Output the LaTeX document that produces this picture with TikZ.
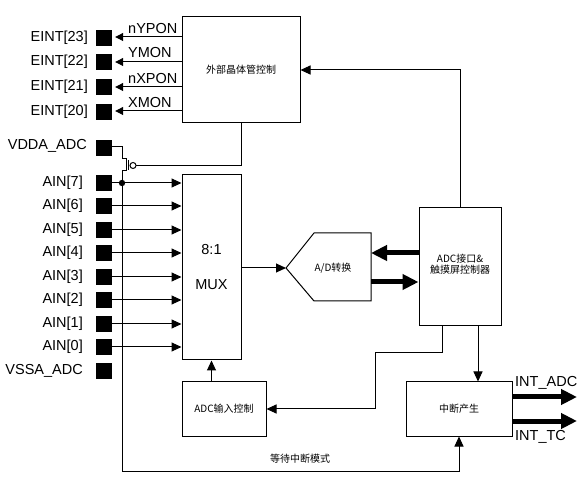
\documentclass[tikz,border=0pt]{standalone}
\usepackage{fontspec}
\setmainfont{Liberation Sans}
\newfontfamily\cjk{Noto Sans CJK SC}
\usetikzlibrary{arrows.meta,calc}
\begin{document}
\begin{tikzpicture}[x=1pt,y=-1pt,
  pad/.style={fill=black,minimum size=16pt,inner sep=0pt},
  blk/.style={draw,line width=1pt,inner sep=0pt},
  wire/.style={line width=1pt},
  arr/.style={line width=1pt,-{Triangle[length=10pt,width=9pt]}},
  sarr/.style={line width=1pt,-{Triangle[length=8pt,width=8pt]}},
  fat/.style={line width=5pt,-{Triangle[length=16pt,width=15pt]}},
  lab/.style={font=\fontsize{14.5}{16}\selectfont,inner sep=0pt},
  cn/.style={font=\cjk\fontsize{10}{11}\selectfont,inner sep=0pt,align=center}]
\useasboundingbox (0,0) rectangle (584,478);
\fill[white] (0,0) rectangle (584,478);

% blocks
\node[blk,minimum width=118pt,minimum height=106pt] (ext) at (241,70) {};
\node[cn] (extT) at (241,70) {外部晶体管控制};
\node[blk,minimum width=59pt,minimum height=185pt] (mux) at (211.5,267.5) {};
\node[lab] (muxA) at (211.5,250) {8:1};
\node[lab] (muxB) at (211.5,285) {MUX};
\node[blk,minimum width=82pt,minimum height=118pt] (adc) at (460,267) {};
\node[cn] (adcT) at (460,264) {ADC接口\&\\触摸屏控制器};
\node[blk,minimum width=84pt,minimum height=54pt] (ain) at (224,409) {};
\node[cn] (ainT) at (224,409) {ADC输入控制};
\node[blk,minimum width=106pt,minimum height=54pt] (irq) at (459,409) {};
\node[cn] (irqT) at (459,409) {中断产生};

% A/D converter shape
\coordinate (adtip) at (286,268);
\coordinate (adtl) at (314,233);
\coordinate (adtr) at (371,233);
\coordinate (adbr) at (371,301);
\coordinate (adbl) at (314,301);
\draw[wire,line join=miter] (adtip) -- (adtl) -- (adtr) -- (adbr) -- (adbl) -- cycle;
\node[cn] (adT) at (333,268) {A/D转换};

% EINT pads
\foreach \n/\y/\s in {e23/38/EINT[23], e22/62/EINT[22], e21/87/EINT[21], e20/112/EINT[20]}{
  \node[pad] (\n) at (104,\y) {};
  \node[lab,anchor=east] (\n l) at (88,\y) {\s};
}
\foreach \n/\y/\s in {e23/37/nYPON, e22/62/YMON, e21/87/nXPON, e20/111/XMON}{
  \draw[sarr,shorten >=3pt] (ext.west |- 0,\y) -- (\n.east |- 0,\y);
}
\node[lab,anchor=west] (l1) at (128,29) {nYPON};
\node[lab,anchor=west] (l2) at (128,53) {YMON};
\node[lab,anchor=west] (l3) at (128,79) {nXPON};
\node[lab,anchor=west] (l4) at (128,103) {XMON};

% VDDA / AIN / VSSA pads
\node[pad] (vdd) at (104,148) {};
\node[lab,anchor=east] (vddl) at (87,146) {VDDA\_ADC};
\foreach \n/\y/\s in {a7/183/AIN[7], a6/206/AIN[6], a5/230/AIN[5], a4/253/AIN[4], a3/277/AIN[3], a2/300/AIN[2], a1/324/AIN[1], a0/347/AIN[0]}{
  \node[pad] (\n) at (104,\y) {};
  \node[lab,anchor=east] (\n l) at (83,\y) {\s};
  \draw[arr] (\n.east) -- (mux.west |- \n);
}
\node[pad] (vss) at (104,371) {};
\node[lab,anchor=east] (vssl) at (83,371) {VSSA\_ADC};

% transistor
\coordinate (t1) at (122,147);
\coordinate (t2) at (122,159);
\coordinate (t3) at (126,159);
\coordinate (t4) at (126,171);
\coordinate (t5) at (122,171);
\coordinate (loop) at (122,471);
\coordinate (gate) at (133,165.5);
\draw[wire] (vdd.east |- t1) -- (t1) -- (t2) -- (t3) -- (t4) -- (t5) -- (loop);
\draw[wire] (128,160) -- (128,170);
\draw[wire] (gate) circle (3);
\draw[wire] ($(gate)+(3,0)$) -- (241,165.5) -- (ext.south);
\fill (122,183) circle (3.2);

% bottom loop
\draw[arr] (loop) -| (irq.south);
\node[cn] (wait) at (300,459) {等待中断模式};

% mux to A/D
\draw[arr] (mux.east |- adtip) -- (adtip);
% A/D <-> ADC
\draw[fat] (adc.west |- 0,253) -- (adtr |- 0,253);
\draw[fat] (adtr |- 0,282) -- (adc.west |- 0,282);
% ADC -> external control
\draw[arr] (adc.north) -- (460,70) -- (ext.east);
% ADC -> ADC input control
\draw[arr] (adc.south -| 442,0) -- (442,353) -- (375,353) -- (375,409) -- (ain.east);
% ADC -> interrupt
\draw[arr] (adc.south -| 478,0) -- (irq.north -| 478,0);
% ADC input control -> mux
\draw[arr] (mux.south |- ain.north) -- (mux.south);
% interrupt outputs
\draw[fat] (irq.east |- 0,397) -- (577,397);
\draw[fat] (irq.east |- 0,421) -- (577,421);
\node[lab,anchor=west] (ia) at (515,383) {INT\_ADC};
\node[lab,anchor=west] (it) at (515,437) {INT\_TC};
\end{tikzpicture}
\end{document}
